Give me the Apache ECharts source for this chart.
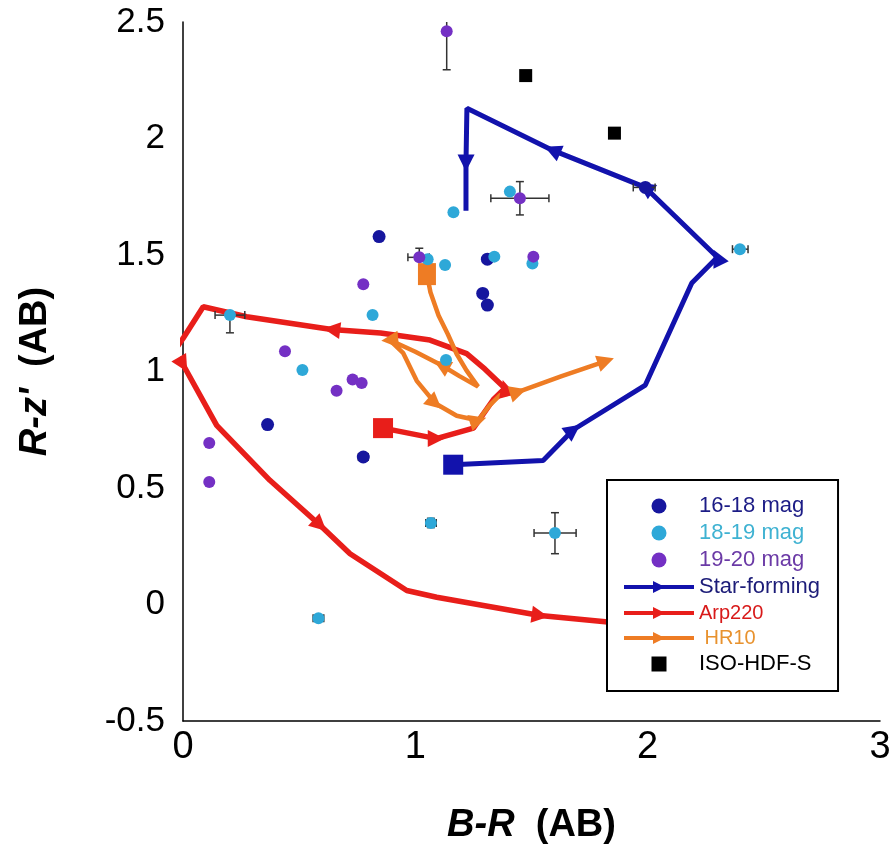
<!DOCTYPE html>
<html><head><meta charset="utf-8">
<script src="https://cdn.jsdelivr.net/npm/echarts@6/dist/echarts.min.js"></script>
<style>html,body{margin:0;padding:0;background:#fff}#c{width:895px;height:850px}</style>
</head><body><div id="c"></div>
<script>
// ---- data ----
const mag16_18 = [[0.844,1.579],[1.31,1.482],[1.29,1.335],[1.31,1.285],[0.364,0.772],[0.776,0.633],[1.99,1.79]];
const mag18_19 = [[1.407,1.772],[1.164,1.683],[1.053,1.482],[1.128,1.457],[1.34,1.493],[1.504,1.464],[2.397,1.525],
                  [0.202,1.242],[0.816,1.242],[0.514,1.006],[1.132,1.049],[1.067,0.35],[1.601,0.307],[0.583,-0.059]];
const mag19_20 = [[1.135,2.46],[1.45,1.744],[1.017,1.49],[1.508,1.493],[0.776,1.374],[0.439,1.087],[0.730,0.966],
                  [0.769,0.951],[0.661,0.917],[0.113,0.693],[0.113,0.526]];
const isoHdfS = [[1.475,2.27],[1.857,2.023]];
// [x, y, xlow, xhigh, ylow, yhigh]
const errorBars = [
  [1.135,2.46, 1.135,1.135, 2.295,2.65],
  [1.45,1.744, 1.325,1.575, 1.672,1.815],
  [1.601,0.307, 1.511,1.692, 0.218,0.394],
  [2.397,1.525, 2.365,2.432, 1.525,1.525],
  [0.202,1.242, 0.138,0.266, 1.166,1.242],
  [1.99,1.79, 1.938,2.032, 1.79,1.79],
  [1.067,0.35, 1.045,1.09, 0.33,0.37],
  [1.017,1.49, 0.968,1.06, 1.49,1.529],
  [0.776,0.633, 0.755,0.797, 0.633,0.633],
  [0.583,-0.059, 0.56,0.606, -0.059,-0.059]
];
// model tracks (first point = starting square)
const starForming = [[1.163,0.6],[1.55,0.618],[1.68,0.75],[1.99,0.942],[2.19,1.38],[2.30,1.49],[1.99,1.79],
                     [1.59,1.95],[1.222,2.13],[1.218,1.895],[1.218,1.69]];
const starFormingArrows = [2,5,6,7,9];
const arp220 = [[0.861,0.757],[1.09,0.712],[1.25,0.757],[1.336,0.88],[1.386,0.928],[1.30,1.01],[1.221,1.077],
                [1.063,1.135],[0.85,1.165],[0.64,1.18],[0.274,1.235],[0.087,1.278],[0.0,1.142],[-0.04,1.085],
                [0.0,1.03],[0.145,0.769],[0.374,0.533],[0.59,0.34],[0.719,0.218],[0.963,0.06],[1.092,0.031],
                [1.537,-0.047],[1.84,-0.076]];
const arp220Arrows = [1,4,9,14,17,21];
const hr10 = [[1.05,1.418],[1.065,1.34],[1.10,1.24],[1.14,1.16],[1.178,1.075],[1.22,1.005],[1.27,0.935],
              [1.19,0.98],[1.113,1.027],[1.00,1.085],[0.89,1.135],[0.947,1.08],[1.006,0.96],[1.085,0.864],
              [1.178,0.81],[1.27,0.79],[1.32,0.855],[1.364,0.898],[1.443,0.913],[1.63,0.98],[1.82,1.045]];
const hr10Arrows = [8,10,13,15,18,20];

const xTickValues = [0,1,2,3];
const yTickValues = [-0.5,0,0.5,1,1.5,2,2.5];

// ---- styling ----
const F = '"Liberation Sans", Arial, Helvetica, sans-serif';
const C_BLUE = '#16169e', C_CYAN = '#2ea8d8', C_PURPLE = '#7430c4';
const C_SF = '#1212ac', C_ARP = '#e81e1a', C_HR = '#ee7c24';

function trackData(pts, arrows, startSize) {
  return pts.map((p, i) => {
    if (i === 0) return {value: p, symbol: 'rect', symbolSize: startSize, symbolRotate: 0};
    if (arrows.indexOf(i) >= 0) {
      const a = pts[Math.max(i - 1, 0)], b = pts[Math.min(i + 1, pts.length - 1)];
      const ang = Math.atan2(b[1] - a[1], b[0] - a[0]) * 180 / Math.PI;
      return {value: p, symbol: 'triangle', symbolSize: 17, symbolRotate: ang - 90};
    }
    return {value: p, symbol: 'none'};
  });
}
function trackSeries(name, pts, arrows, color, width, startSize) {
  return {
    name, type: 'line', data: trackData(pts, arrows, startSize),
    symbol: 'triangle', symbolSize: 17, symbolRotate: -90, showSymbol: true,
    lineStyle: {color, width}, itemStyle: {color, opacity: 1}, clip: true, animation: false, z: 2
  };
}

const chart = echarts.init(document.getElementById('c'), null, {renderer: 'canvas'});
chart.setOption({
  backgroundColor: '#fff',
  animation: false,
  grid: {left: 183, right: 15, top: 22, bottom: 128, containLabel: false},
  xAxis: {
    type: 'value', min: xTickValues[0], max: xTickValues[xTickValues.length - 1], interval: 1,
    axisLine: {show: true, onZero: false, lineStyle: {color: '#000', width: 1.5}},
    axisTick: {show: false}, splitLine: {show: false},
    axisLabel: {fontSize: 38, fontFamily: F, color: '#000', margin: 8},
    name: '{i|B-R}  {n|(AB)}', nameLocation: 'middle', nameGap: 86,
    nameTextStyle: {fontSize: 38, fontWeight: 'bold', fontFamily: F, color: '#000',
      rich: {i: {fontStyle: 'italic', fontWeight: 'bold', fontSize: 38, fontFamily: F, color: '#000'},
             n: {fontWeight: 'bold', fontSize: 38, fontFamily: F, color: '#000'}}}
  },
  yAxis: {
    type: 'value', min: yTickValues[0], max: yTickValues[yTickValues.length - 1], interval: 0.5,
    axisLine: {show: true, onZero: false, lineStyle: {color: '#000', width: 1.5}},
    axisTick: {show: false}, splitLine: {show: false},
    axisLabel: {fontSize: 35, fontFamily: F, color: '#000', margin: 18},
    name: "{i|R-z'}  {n|(AB)}", nameLocation: 'middle', nameGap: 128, nameRotate: 90,
    nameTextStyle: {fontSize: 38, fontWeight: 'bold', fontFamily: F, color: '#000',
      rich: {i: {fontStyle: 'italic', fontWeight: 'bold', fontSize: 38, fontFamily: F, color: '#000'},
             n: {fontWeight: 'bold', fontSize: 38, fontFamily: F, color: '#000'}}}
  },
  legend: {
    orient: 'vertical', left: 607, top: 480,
    padding: [15, 18, 16, 15], itemGap: 5, itemWidth: 70, itemHeight: 15,
    backgroundColor: '#fff', borderColor: '#000', borderWidth: 2, borderRadius: 0,
    textStyle: {fontSize: 22, fontFamily: F, color: '#000'},
    lineStyle: {width: 4},
    formatter: n => n === 'HR10' ? ' HR10' : n,
    data: [
      {name: '16-18 mag', textStyle: {color: '#1c1c86'}},
      {name: '18-19 mag', textStyle: {color: '#3fb2d2'}},
      {name: '19-20 mag', textStyle: {color: '#6b3aa6'}},
      {name: 'Star-forming', textStyle: {color: '#1c1c78'}},
      {name: 'Arp220', textStyle: {color: '#d81a1a', fontSize: 20}},
      {name: 'HR10', textStyle: {color: '#e8922e', fontSize: 20}},
      {name: 'ISO-HDF-S', icon: 'path://M0,0L10,0L10,10L0,10Z', textStyle: {color: '#000'}}
    ]
  },
  series: [
    trackSeries('Star-forming', starForming, starFormingArrows, C_SF, 5, 20),
    trackSeries('Arp220', arp220, arp220Arrows, C_ARP, 5.5, 20),
    trackSeries('HR10', hr10, hr10Arrows, C_HR, 4.5, [18, 22]),
    {
      name: 'errors', type: 'custom', silent: true, clip: true, z: 3,
      encode: {x: 0, y: 1},
      data: errorBars,
      renderItem: function (params, api) {
        const x = api.value(0), y = api.value(1);
        const xlo = api.value(2), xhi = api.value(3), ylo = api.value(4), yhi = api.value(5);
        const cap = 4, st = {stroke: '#333', lineWidth: 1.5};
        const ch = [];
        const L = (a, b) => ch.push({type: 'line', shape: {x1: a[0], y1: a[1], x2: b[0], y2: b[1]}, style: st});
        if (xhi > xlo) {
          const a = api.coord([xlo, y]), b = api.coord([xhi, y]);
          L(a, b); L([a[0], a[1] - cap], [a[0], a[1] + cap]); L([b[0], b[1] - cap], [b[0], b[1] + cap]);
        }
        if (yhi > ylo) {
          const a = api.coord([x, ylo]), b = api.coord([x, yhi]);
          L(a, b);
          if (ylo < y) L([a[0] - cap, a[1]], [a[0] + cap, a[1]]);
          if (yhi > y && yhi <= 2.5) L([b[0] - cap, b[1]], [b[0] + cap, b[1]]);
        }
        return {type: 'group', children: ch};
      }
    },
    {name: '16-18 mag', type: 'scatter', data: mag16_18, symbol: 'circle', symbolSize: 13, itemStyle: {color: C_BLUE, opacity: 1}, z: 4},
    {name: '18-19 mag', type: 'scatter', data: mag18_19, symbol: 'circle', symbolSize: 12, itemStyle: {color: C_CYAN, opacity: 1}, z: 4},
    {name: '19-20 mag', type: 'scatter', data: mag19_20, symbol: 'circle', symbolSize: 12, itemStyle: {color: C_PURPLE, opacity: 1}, z: 4},
    {name: 'ISO-HDF-S', type: 'scatter', data: isoHdfS, symbol: 'rect', symbolSize: 13, itemStyle: {color: '#000', opacity: 1}, z: 4}
  ]
});
</script></body></html>
